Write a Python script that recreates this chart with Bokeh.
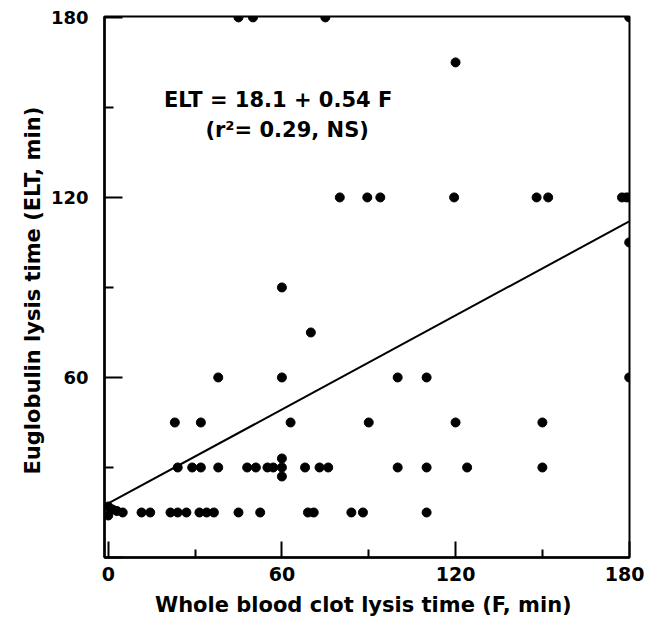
from bokeh.plotting import figure
from bokeh.models import FixedTicker, Range1d, ColumnDataSource
from bokeh.embed import file_html
from bokeh.resources import INLINE
from bokeh.core.properties import value

# Data (F = whole blood clot lysis time, ELT = euglobulin lysis time)
f_vals = [45, 50, 75, 180,
          120,
          80, 89.5, 94, 119.5, 148, 152, 177.5, 179, 180,
          180, 60, 70,
          38, 60, 100, 110, 180,
          23, 32, 63, 90, 120, 150,
          24, 29, 32, 38, 48, 51, 55, 57, 60, 60, 60, 68, 73, 76, 100, 110, 124, 150,
          0, 0, 1.5, 3, 5, 11.5, 14.5, 21.5, 24, 27, 31.5, 34, 36.5, 45, 52.5, 69, 71, 84, 88, 110]
elt_vals = [180, 180, 180, 180,
            165,
            120, 120, 120, 120, 120, 120, 120, 120, 120,
            105, 90, 75,
            60, 60, 60, 60, 60,
            45, 45, 45, 45, 45, 45,
            30, 30, 30, 30, 30, 30, 30, 30, 30, 33, 27, 30, 30, 30, 30, 30, 30, 30,
            17, 14, 16, 15.5, 15, 15, 15, 15, 15, 15, 15, 15, 15, 15, 15, 15, 15, 15, 15, 15]

# regression line as drawn in the picture
line_f = [0, 180]
line_elt = [18, 112]

x_ticks = [0, 60, 120, 180]
x_minor = [30, 90, 150]
y_ticks = [0, 60, 120, 180]
y_minor = [30, 90, 150]

eq_text = ["ELT = 18.1 + 0.54 F"]
r_text = ["(r²= 0.29, NS)"]

FONT = "DejaVu Sans"

p = figure(width=644, height=619, output_backend="svg", toolbar_location=None,
           x_range=Range1d(-1.3, 180.1), y_range=Range1d(0, 180.3),
           min_border_left=104, min_border_right=15, min_border_top=16, min_border_bottom=61)
p.background_fill_color = "white"
p.border_fill_color = "white"
p.outline_line_color = "black"
p.outline_line_width = 2
p.grid.visible = False

p.line(line_f, line_elt, line_color="black", line_width=2)
src = ColumnDataSource(dict(f=f_vals, elt=elt_vals))
p.scatter("f", "elt", source=src, size=9, fill_color="black", line_color="black")

p.text(x=[58.7], y=[152.4], text=eq_text, text_font=value(FONT), text_font_style="bold",
       text_font_size="21px", text_align="center", text_baseline="middle", text_color="black")
p.text(x=[61.8], y=[142.4], text=r_text, text_font=value(FONT), text_font_style="bold",
       text_font_size="21px", text_align="center", text_baseline="middle", text_color="black")

xa = p.xaxis[0]
xa.ticker = FixedTicker(ticks=x_ticks, minor_ticks=x_minor)
xa.major_tick_in = 16
xa.major_tick_out = 0
xa.minor_tick_in = 8
xa.minor_tick_out = 0
xa.axis_line_width = 2.5
xa.major_tick_line_width = 2
xa.minor_tick_line_width = 2
xa.major_label_standoff = 9
xa.major_label_text_font = FONT
xa.major_label_text_font_style = "bold"
xa.major_label_text_font_size = "19px"
xa.major_label_text_color = "black"
xa.axis_label = "Whole blood clot lysis time  (F, min)"
xa.axis_label_text_font = FONT
xa.axis_label_text_font_style = "bold"
xa.axis_label_text_font_size = "21px"
xa.axis_label_text_color = "black"
xa.axis_label_standoff = 9

ya = p.yaxis[0]
ya.ticker = FixedTicker(ticks=y_ticks, minor_ticks=y_minor)
ya.major_label_overrides = {0: ""}
ya.major_tick_in = 18
ya.major_tick_out = 0
ya.minor_tick_in = 9
ya.minor_tick_out = 0
ya.axis_line_width = 2.5
ya.major_tick_line_width = 2
ya.minor_tick_line_width = 2
ya.major_label_standoff = 16
ya.major_label_orientation = "horizontal"
ya.major_label_text_font = FONT
ya.major_label_text_font_style = "bold"
ya.major_label_text_font_size = "18px"
ya.major_label_text_color = "black"
ya.axis_label = "Euglobulin lysis time  (ELT, min)"
ya.axis_label_text_font = FONT
ya.axis_label_text_font_style = "bold"
ya.axis_label_text_font_size = "21px"
ya.axis_label_text_color = "black"
ya.axis_label_standoff = 3

open("out.html", "w").write(file_html(p, INLINE))
